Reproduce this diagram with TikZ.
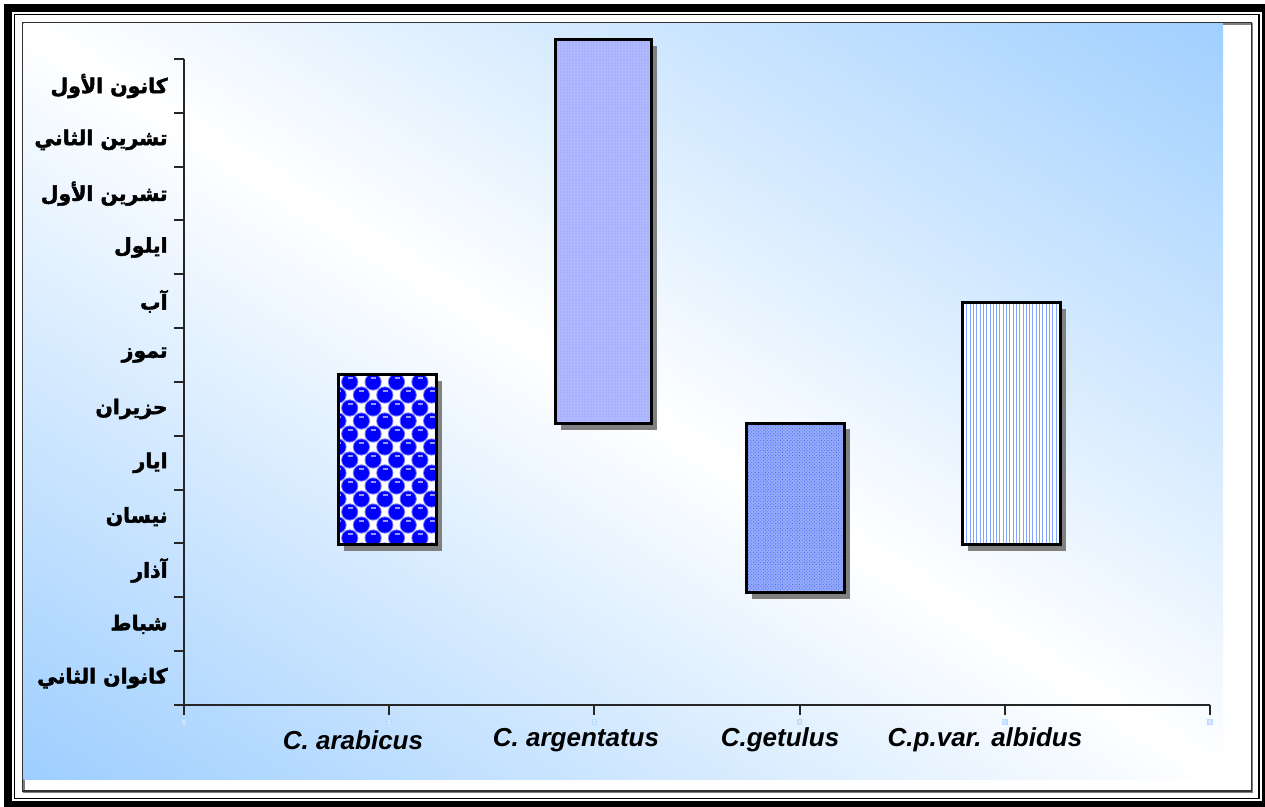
\documentclass[tikz,border=0pt]{standalone}
\usepackage{fontspec}
\setmainfont{Liberation Sans}
\newfontfamily\arabicfont[Script=Arabic,FakeBold=2.2]{DejaVu Sans Bold}
\TeXXeTstate=1
\usetikzlibrary{patterns.meta}

\definecolor{skyblue}{RGB}{153,204,255}
\definecolor{ballblue}{RGB}{0,0,255}
\definecolor{lavender}{RGB}{178,186,255}
\definecolor{dotblue}{RGB}{140,150,250}
\definecolor{checkblue}{RGB}{150,172,250}
\definecolor{checkdark}{RGB}{70,105,240}
\definecolor{lineblue}{RGB}{130,165,255}

\pgfdeclareverticalshading{chartbg}{100bp}{color(0bp)=(skyblue); color(14bp)=(skyblue); color(50bp)=(white); color(87bp)=(skyblue); color(100bp)=(skyblue)}

\begin{document}
\begin{tikzpicture}[x=0.5pt,y=-0.5pt]
				\tikzset{month/.style={anchor=east,inner sep=0pt,font=\arabicfont\fontsize{10.2}{12}\selectfont},
					species/.style={font=\bfseries\itshape\fontsize{13}{15}\selectfont},
					ticklab/.style={fill=skyblue!70,text=white,inner sep=0.6pt,font=\fontsize{3}{3}\selectfont},
					barline/.style={draw=black,line width=1.5pt},
					axis/.style={draw=black!85,line width=1pt}}
				
				\useasboundingbox (0,0) rectangle (1265,807);
				
				% frame
				\fill[black] (4,4) rectangle (1265,807);
				\fill[white] (12,12) rectangle (1261.5,800.5);
				\draw[line width=0.8pt] (14.5,14.5) rectangle (1258.8,798.3);
				\draw[gray,line width=0.8pt] (23.8,23.8) rectangle (1252.6,792.2);
				\draw[black!80,line width=0.7pt] (22.7,22.7) rectangle (1251.5,791);
				
				% chart background
				\shade[shading=chartbg,shading angle=-32] (23.5,23.5) rectangle (1223,779);
				
				% axes
				\draw[axis] (184,59) -- (184,705);
				\draw[axis] (174,705) -- (1210,705);
				\foreach \k in {0,...,11}
				{
					\draw[axis] (174,{59+53.83*\k}) -- (184,{59+53.83*\k}); %month ticks
				}
				\foreach \k [count=\n] in {0,...,5}
				{
					\draw[axis] ({184+205.2*\k},705) -- ({184+205.2*\k},715);
					\node[ticklab] (t\n) at ({184+205.2*\k},722) {\n};
				}
				
				% month labels
				\foreach \lab [count=\k from 0] in {كانون الأول,تشرين الثاني,تشرين الأول,ايلول,آب,تموز,حزيران,ايار,نيسان,آذار,شباط,كانوان الثاني}
				{
					\node[month] (m\k) at (168,{86+53.83*\k}) {\beginR\lab\endR};
				}
				
				% shadows
				\fill[gray] (344,381) rectangle (442,551);
				\fill[gray] (561,46) rectangle (657,430);
				\fill[gray] (752,429) rectangle (850,599);
				\fill[gray] (968,309) rectangle (1066,551);
				
				% C. arabicus
				\begin{scope}
					\clip (338,375) rectangle (436,545);
					\fill[white] (338,375) rectangle (436,545);
					\foreach \j in {0,...,13}
					{
						\pgfmathsetmacro\off{mod(\j+1,2)*11.7}
						\foreach \k in {0,...,4}
						{
							\fill[ballblue!55!white] ({338+\off+23.4*\k},{382+13*\j}) circle (4.3pt);
							\fill[ballblue] ({338+\off+23.4*\k},{382+13*\j}) circle (3.8pt);
							\fill[white!60!ballblue] ({336+\off+23.4*\k},{377+13*\j}) rectangle ({341+\off+23.4*\k},{379+13*\j}); % highlight
						}
					}
				\end{scope}
				\draw[barline] (338,375) rectangle (436,545);
				
				% C. argentatus
				\fill[lavender] (555,40) rectangle (651,424);
				\fill[pattern={Dots[distance=1.5pt,radius=0.3pt]},pattern color=dotblue] (555,40) rectangle (651,424);
				\draw[barline] (555,40) rectangle (651,424);
				
				% C.getulus
				\fill[checkblue] (746,424) rectangle (844,593);
				\fill[pattern={Dots[distance=1.2pt,radius=0.32pt,angle=45]},pattern color=checkdark] (746,424) rectangle (844,593);
				\draw[barline] (746,424) rectangle (844,593);
				
				% C.p.var. albidus
				\fill[white] (962,303) rectangle (1060,545);
				\fill[pattern={Lines[angle=90,distance=1.65pt,line width=0.45pt]},pattern color=lineblue] (962,303) rectangle (1060,545);
				\draw[barline] (962,303) rectangle (1060,545);
				
				% species labels
				\node[species] (s1) at (353,740) {C. arabicus};
				\node[species] (s2) at (576,740) {C. argentatus};
				\node[species] (s3) at (780,740) {C.getulus};
				\node[species] (s4) at (985,740) {C.p.var. albidus};
				
\end{tikzpicture}
\end{document}
